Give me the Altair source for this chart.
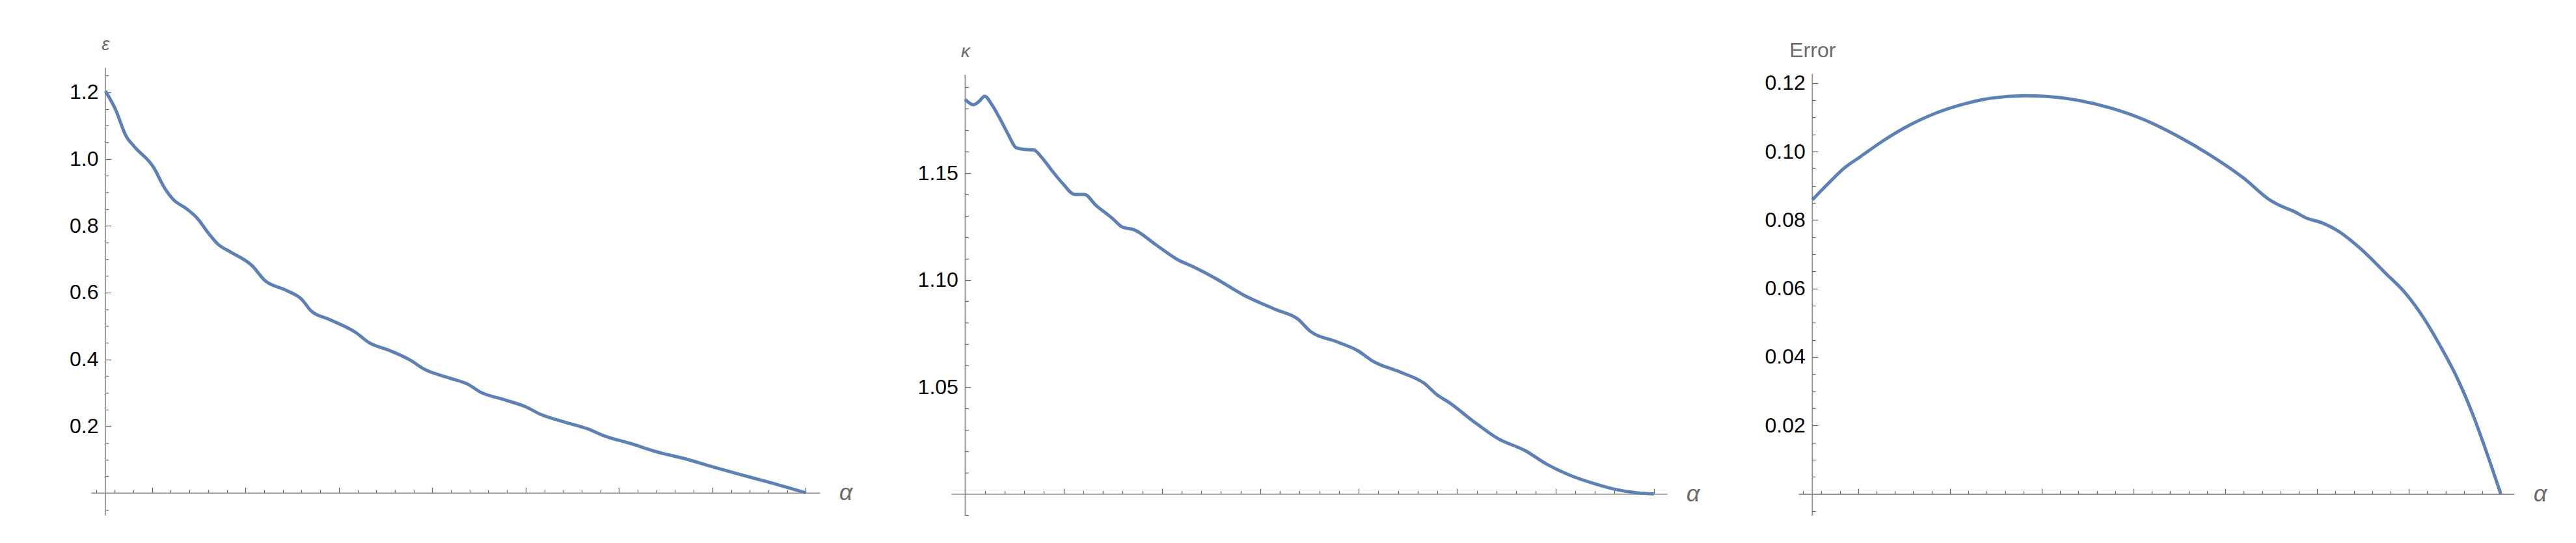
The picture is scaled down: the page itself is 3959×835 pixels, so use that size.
import altair as alt
import pandas as pd

FONT = "Liberation Sans"
LINE_COLOR = "#5E81B5"
AXIS_COLOR = "#8f8f8f"
TICK_COLOR = "#666666"
TITLE_COLOR = "#6b6b6b"

# ---------------- data ----------------
eps_alpha = [0.05, 0.0606, 0.0723, 0.0811, 0.1016, 0.1134, 0.1222, 0.1369, 0.1486, 0.1603,
             0.1709, 0.1838, 0.2073, 0.2208, 0.2425, 0.2601, 0.2707, 0.2894, 0.3188, 0.3317,
             0.3540, 0.3775, 0.3904, 0.4185, 0.4391, 0.4508, 0.4772, 0.5007, 0.5154, 0.5418,
             0.5682, 0.5829, 0.6122, 0.6415, 0.6709, 0.7002, 0.7296, 0.7589, 0.8]
eps_vals = [1.204, 1.150, 1.068, 1.037, 0.975, 0.913, 0.880, 0.851, 0.822, 0.778,
            0.744, 0.722, 0.680, 0.636, 0.608, 0.580, 0.544, 0.520, 0.479, 0.451,
            0.427, 0.396, 0.372, 0.344, 0.324, 0.303, 0.279, 0.257, 0.236, 0.212,
            0.190, 0.172, 0.148, 0.122, 0.102, 0.078, 0.055, 0.033, 0.0]

kap_alpha = [0.1, 0.1045, 0.1081, 0.1140, 0.1198, 0.1267, 0.1351, 0.1434, 0.1518, 0.1601,
             0.1701, 0.1768, 0.1879, 0.1991, 0.2113, 0.2213, 0.2324, 0.2491, 0.2603, 0.2714,
             0.2937, 0.3159, 0.3326, 0.3549, 0.3827, 0.4161, 0.4383, 0.4506, 0.4773, 0.4996,
             0.5135, 0.5441, 0.5663, 0.5802, 0.5914, 0.6164, 0.6415, 0.6693, 0.6915, 0.7138,
             0.7388, 0.7611, 0.7834, 0.8]
kap_vals = [1.1844, 1.1826, 1.1819, 1.1834, 1.1859, 1.1822, 1.1756, 1.1683, 1.1618, 1.1610,
            1.1607, 1.1578, 1.1513, 1.1451, 1.1400, 1.1400, 1.1351, 1.1290, 1.1246, 1.1235,
            1.1165, 1.1095, 1.1060, 1.1006, 1.0930, 1.0861, 1.0817, 1.0761, 1.0712, 1.0668,
            1.0623, 1.0566, 1.0518, 1.0461, 1.0429, 1.0340, 1.0259, 1.0202, 1.0138, 1.0089,
            1.0049, 1.0021, 1.0005, 1.0000]

err_alpha = [0.05, 0.0661, 0.0840, 0.1019, 0.1258, 0.1496, 0.1854, 0.2153, 0.2451, 0.2809,
             0.3048, 0.3406, 0.3764, 0.4122, 0.4480, 0.4838, 0.5196, 0.5494, 0.5613, 0.5733,
             0.5882, 0.6061, 0.6210, 0.6479, 0.6748, 0.6956, 0.7165, 0.7344, 0.7523, 0.7702,
             0.7852, 0.8]
err_vals = [0.0859, 0.0903, 0.0950, 0.0984, 0.1029, 0.1068, 0.1113, 0.1139, 0.1156, 0.1163,
            0.1161, 0.1149, 0.1126, 0.1092, 0.1045, 0.0989, 0.0923, 0.0857, 0.0840, 0.0827,
            0.0806, 0.0791, 0.0771, 0.0715, 0.0644, 0.0588, 0.0512, 0.0431, 0.0340, 0.0228,
            0.0117, 0.0]

# tick values
eps_yticks = [0.2, 0.4, 0.6, 0.8, 1.0, 1.2]
eps_yminor = [round(-0.05 + 0.05 * i, 2) for i in range(27)]
kap_yticks = [1.05, 1.10, 1.15]
kap_yminor = [round(0.99 + 0.01 * i, 2) for i in range(21)]
err_yticks = [0.02, 0.04, 0.06, 0.08, 0.10, 0.12]
err_yminor = [round(-0.005 + 0.005 * i, 3) for i in range(25)]
x_major = [0.1, 0.2, 0.3, 0.4, 0.5, 0.6, 0.7, 0.8]
x_minor = [round(0.04 + 0.02 * i, 2) for i in range(39)]


def not_major(vals, majors, extra):
    return [v for v in vals if all(abs(v - m) > 1e-6 for m in majors + extra)]


def panel(alpha, vals, xdom, ydom, W, H, x0, ycross, yext, xmaj, xmin_, ymaj, ymin_,
          title, tstyle, tsize, tdy, fmt):
    df = pd.DataFrame({"a": alpha, "v": vals})
    xs = alt.Scale(domain=xdom, nice=False, zero=False)
    ys = alt.Scale(domain=ydom, nice=False, zero=False)
    y0px = (ydom[1] - ycross) / (ydom[1] - ydom[0]) * H
    x0px = (x0 - xdom[0]) / (xdom[1] - xdom[0]) * W

    line = alt.Chart(df).mark_line(color=LINE_COLOR, strokeWidth=5, interpolate="monotone").encode(
        x=alt.X("a:Q", scale=xs, axis=alt.Axis(
            orient="top", offset=-y0px, values=xmaj, labels=False, grid=False,
            tickSize=8.5, tickWidth=1.3, tickColor=TICK_COLOR,
            domainColor=AXIS_COLOR, domainWidth=1.7,
            title="α", titleFont=FONT, titleFontSize=36, titleFontStyle="italic",
            titleFontWeight="normal", titleColor=TITLE_COLOR, titleAngle=0,
            titleX=W + 39.5, titleY=10.5, titleAlign="center", titleBaseline="alphabetic")),
        y=alt.Y("v:Q", scale=ys, axis=alt.Axis(
            orient="left", offset=-x0px, values=ymaj, format=fmt, ticks=False, tickSize=0,
            domain=False, grid=False, labelPadding=11, labelFont=FONT, labelFontSize=32,
            labelColor="#000000",
            title=title, titleFont=FONT, titleFontSize=tsize, titleFontStyle=tstyle,
            titleFontWeight="normal", titleColor=TITLE_COLOR, titleAngle=0,
            titleX=0, titleY=tdy, titleAlign="center", titleBaseline="alphabetic")),
    )

    hidden1 = alt.Chart(df).mark_line(opacity=0).encode(
        x=alt.X("a:Q", scale=xs, axis=alt.Axis(
            orient="top", offset=-y0px, values=xmin_, labels=False, grid=False, domain=False,
            tickSize=5, tickWidth=1.3, tickColor=TICK_COLOR, title="")),
        y=alt.Y("v:Q", scale=ys, axis=alt.Axis(
            orient="right", offset=-(W - x0px), values=ymaj, labels=False, grid=False,
            domain=False, tickSize=8.5, tickWidth=1.3, tickColor=TICK_COLOR, title="")),
    )

    hidden2 = alt.Chart(df).mark_line(opacity=0).encode(
        x=alt.X("a:Q", scale=xs, axis=None),
        y=alt.Y("v:Q", scale=ys, axis=alt.Axis(
            orient="right", offset=-(W - x0px), values=ymin_, labels=False, grid=False,
            domain=False, tickSize=5, tickWidth=1.3, tickColor=TICK_COLOR, title="")),
    )

    ydf = pd.DataFrame({"a": [x0], "lo": [yext[0]], "hi": [yext[1]]})
    yline = alt.Chart(ydf).mark_rule(color=AXIS_COLOR, strokeWidth=1.7).encode(
        x=alt.X("a:Q", scale=xs, axis=None),
        y=alt.Y("lo:Q", scale=ys, axis=None),
        y2="hi:Q",
    )

    return alt.layer(yline, hidden2, hidden1, line).resolve_axis(
        x="independent", y="independent").properties(width=W, height=H)


H = 689
p1 = panel(eps_alpha, eps_vals, [0.03467, 0.81505], [-0.0684, 1.2739], 1120, H, 0.05, 0.0,
           [-0.0678, 1.2739], x_major, not_major(x_minor, x_major, []),
           eps_yticks, not_major(eps_yminor, eps_yticks, [0.0]),
           "ε", "italic", 28, -28, ".1f")
p2 = panel(kap_alpha, kap_vals, [0.08585, 0.81341], [0.98982, 1.19924], 1100, H, 0.1, 1.0,
           [0.98973, 1.1959], x_major[1:], not_major([v for v in x_minor if v > 0.1], x_major, []),
           kap_yticks, not_major(kap_yminor, kap_yticks, [1.0]),
           "κ", "italic", 28, -17, ".2f")
p3 = panel(err_alpha, err_vals, [0.03490, 0.81466], [-0.00634, 0.12450], 1100, H, 0.05, 0.0,
           [-0.0064, 0.1226], x_major, not_major(x_minor, x_major, []),
           err_yticks, not_major(err_yminor, err_yticks, [0.0]),
           "Error", "normal", 32, -17, ".2f")

chart = alt.hconcat(p1, p2, p3, spacing=202, bounds="flush").properties(
    padding={"left": 98, "top": 46, "right": 5, "bottom": 5}
).configure_view(strokeWidth=0)

chart.save("out.html", embed_options={"renderer": "svg", "actions": False})
